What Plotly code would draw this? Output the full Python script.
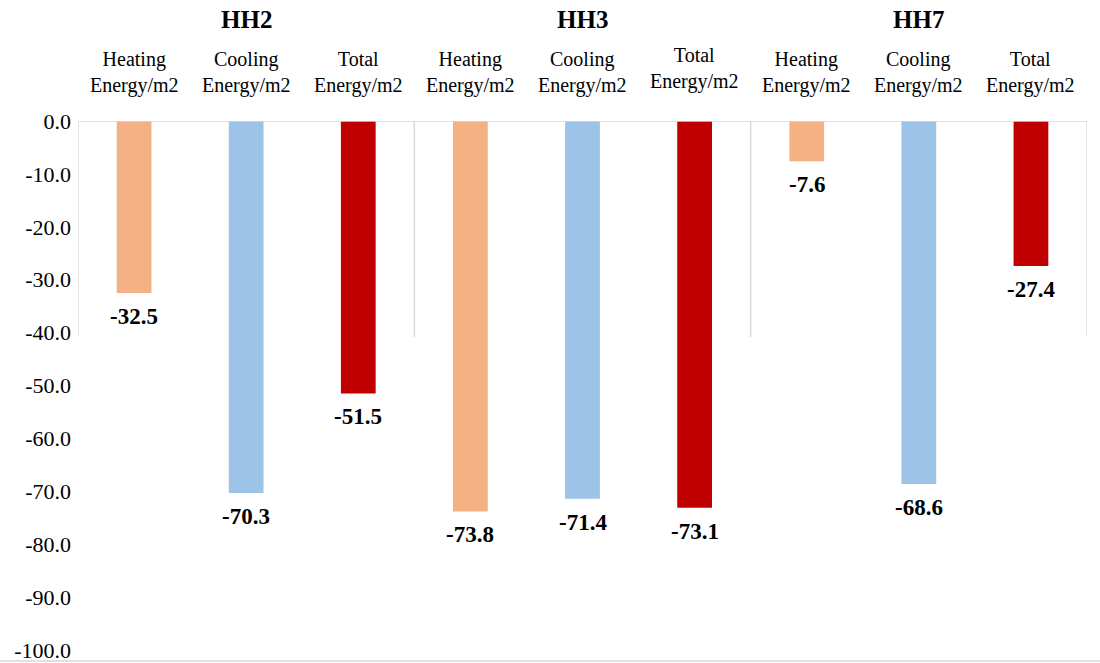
import plotly.graph_objects as go

# Energy savings per m2 for each household
households = ["HH2", "HH3", "HH7"]
measure_labels = ["Heating<br>Energy/m2", "Cooling<br>Energy/m2", "Total<br>Energy/m2"]
hh2_values = [-32.5, -70.3, -51.5]
hh3_values = [-73.8, -71.4, -73.1]
hh7_values = [-7.6, -68.6, -27.4]
measure_colors = ["#F4B183", "#9DC3E6", "#C00000"]
y_ticks = [0, -10, -20, -30, -40, -50, -60, -70, -80, -90, -100]

values = hh2_values + hh3_values + hh7_values
xpos = list(range(len(values)))
colors = measure_colors * len(households)

SERIF = "Liberation Serif, Times New Roman, serif"

W, H = 1100, 663
M_L, M_R, M_T, M_B = 78, 13, 121, 13
PLOT_H = H - M_T - M_B


def paper_y(px):
    """Convert a pixel row from the top of the figure to paper coordinates."""
    return (H - M_B - px) / PLOT_H


fig = go.Figure(
    go.Bar(
        x=xpos,
        y=values,
        marker=dict(color=colors, line=dict(width=0)),
        width=0.31,
        hoverinfo="skip",
    )
)

annotations = []
# value labels under each bar end
for i, v in zip(xpos, values):
    annotations.append(dict(
        x=i, y=v, xref="x", yref="y",
        text=f"<b>{v:.1f}</b>", showarrow=False,
        font=dict(family=SERIF, size=23, color="black"),
        xanchor="center", yanchor="top", yshift=-9,
    ))
# two-line measure labels above each bar (HH3 total sits a little higher)
for i in xpos:
    centre = 69 if i == 5 else 72.5
    annotations.append(dict(
        x=i, y=paper_y(centre), xref="x", yref="paper",
        text=measure_labels[i % 3], showarrow=False,
        font=dict(family=SERIF, size=20, color="black"),
        xanchor="center", yanchor="middle",
    ))
# household labels above each group
for g, name in enumerate(households):
    annotations.append(dict(
        x=3 * g + 1, y=paper_y(20), xref="x", yref="paper",
        text=f"<b>{name}</b>", showarrow=False,
        font=dict(family=SERIF, size=25, color="black"),
        xanchor="center", yanchor="middle",
    ))

shapes = []
# group separators hanging down from the category axis
for xs in [-0.5, 2.5, 5.5, 8.5]:
    shapes.append(dict(
        type="line", xref="x", yref="y",
        x0=xs, x1=xs, y0=0, y1=-40.8,
        line=dict(color="#D9D9D9", width=1.5),
    ))
# category axis line along zero
shapes.append(dict(
    type="line", xref="x", yref="y",
    x0=-0.5, x1=8.5, y0=0, y1=0,
    line=dict(color="#D9D9D9", width=1.5),
))
# outer frame bottom edge
shapes.append(dict(
    type="line", xref="paper", yref="paper",
    x0=-0.08, x1=1.02, y0=paper_y(661), y1=paper_y(661),
    line=dict(color="#D9D9D9", width=1.5),
))

fig.update_layout(
    width=W, height=H,
    margin=dict(l=M_L, r=M_R, t=M_T, b=M_B, autoexpand=False),
    paper_bgcolor="white", plot_bgcolor="white",
    showlegend=False,
    xaxis=dict(range=[-0.5, 8.5], showticklabels=False, showgrid=False,
               zeroline=False, showline=False, ticks="", automargin=False),
    yaxis=dict(range=[-100, 0], tickmode="array", tickvals=y_ticks,
               ticktext=[f"{t:.1f}" for t in y_ticks],
               showgrid=False, zeroline=False, showline=False, ticks="",
               ticklabelstandoff=6, automargin=False,
               tickfont=dict(family=SERIF, size=22, color="black")),
    annotations=annotations,
    shapes=shapes,
)

fig.write_html("out.html")
